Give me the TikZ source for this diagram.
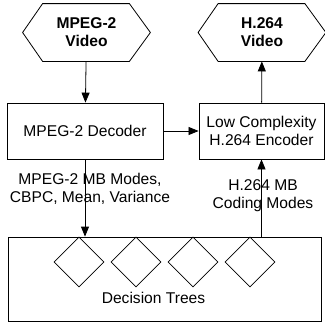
\documentclass[tikz,border=0pt]{standalone}
\usepackage{fontspec}
\setmainfont{Liberation Sans}
\usepackage{tikz}
\usetikzlibrary{calc,positioning,arrows.meta,shapes}

\begin{document}
\begin{tikzpicture}[x=1pt,y=-1pt,font=\fontsize{15.6}{18}\selectfont,
    line width=0.8pt,
    arr/.style={-{Triangle[length=10pt,width=8pt]}},
    hexa/.style={rectangle,minimum width=127pt,minimum height=57pt,inner sep=0pt,
      align=center,font=\fontsize{15.6}{18}\selectfont\bfseries},
    blk/.style={rectangle,draw,inner sep=0pt,align=center},
    tree/.style={diamond,draw,minimum width=50pt,minimum height=50pt,inner sep=0pt}]
    \useasboundingbox (0,0) rectangle (325,322);
    \node[hexa] at (86.5,32.5) (mpg) {MPEG-2\\Video};
    \node[hexa] at (262,32.5) (avc) {H.264\\Video};
    \foreach \n in {mpg,avc}
      \draw (\n.west) -- ($(\n.north west)+(20,0)$) -- ($(\n.north east)+(-21,0)$)
        -- (\n.east) -- ($(\n.south east)+(-21,0)$) -- ($(\n.south west)+(20,0)$) -- cycle;
    \node[blk,minimum width=156pt,minimum height=56pt] at (85,131) (dec) {MPEG-2 Decoder};
    \node[blk,minimum width=125pt,minimum height=56pt] at (261.5,131) (enc) {Low Complexity\\H.264 Encoder};
    \node[blk,minimum width=313pt,minimum height=84pt] at (164.5,279) (trees) {};
    \node[tree] at (79,262) (t1) {};
    \node[tree] at (136,262) (t2) {};
    \node[tree] at (193,262) (t3) {};
    \node[tree] at (250,262) (t4) {};
    \node at (153.5,298) (dt) {Decision Trees};
    \node[align=center] at (90,189) (feat) {MPEG-2 MB Modes,\\CBPC, Mean, Variance};
    \node[align=center] at (263,196) (modes) {H.264 MB\\Coding Modes};
%
    \draw[arr] (mpg) -- (dec);
    \draw[arr] (dec) -- (enc);
    \draw[arr] (enc) -- (avc);
    \draw[arr] (dec.south) -- (dec.south |- trees.north);
    \draw[arr] (trees.north -| enc.south) -- (enc.south);
\end{tikzpicture}
\end{document}
